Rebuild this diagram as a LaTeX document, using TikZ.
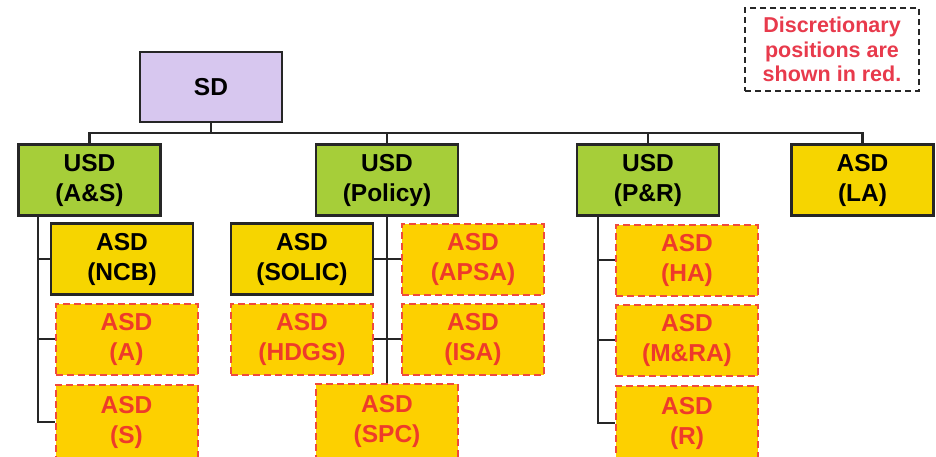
\documentclass[tikz,border=0pt]{standalone}
\usepackage{fontspec}
\setmainfont{Liberation Sans}
\usepackage{tikz}
\usetikzlibrary{positioning}
\definecolor{lilac}{HTML}{D7C7EF}
\definecolor{lime}{HTML}{A6CE39}
\definecolor{gold}{HTML}{F6D500}
\definecolor{amber}{HTML}{FDD000}
\definecolor{alert}{HTML}{EE3B2A}
\definecolor{dashred}{HTML}{F04A3C}
\definecolor{notered}{HTML}{E83A4C}
\definecolor{ink}{HTML}{262626}
\tikzstyle{orgbox}=[rectangle,draw=ink,line width=2.4pt,
  minimum width=142pt,minimum height=71pt,inner sep=0pt,
  align=center,font=\fontsize{24.5}{30}\selectfont\bfseries]
\tikzstyle{sdnode}=[orgbox,fill=lilac]
\tikzstyle{usdnode}=[orgbox,fill=lime]
\tikzstyle{asdnode}=[orgbox,fill=gold]
\tikzstyle{discnode}=[orgbox,fill=amber,draw=dashred,line width=2pt,
  dash pattern=on 7pt off 4pt,text=alert]
\tikzstyle{link}=[line width=2.4pt,color=ink]
\begin{document}
\begin{tikzpicture}[x=1pt,y=-1pt]
  \useasboundingbox[fill=white] (0,0) rectangle (936,456);
  \node[sdnode,minimum height=70pt] (sd) at (211,87) {SD};
  \node[usdnode] (usdas) at (89.5,180) {USD\\(A\&S)};
  \node[usdnode] (usdpol) at (387,180) {USD\\(Policy)};
  \node[usdnode] (usdpr) at (648,180) {USD\\(P\&R)};
  \node[asdnode] (la) at (862.5,180) {ASD\\(LA)};
  \node[asdnode] (ncb) at (122,259) {ASD\\(NCB)};
  \node[discnode] (a) at (126.5,339) {ASD\\(A)};
  \node[discnode,minimum height=74pt] (s) at (126.5,422) {ASD\\(S)};
  \node[asdnode] (solic) at (302,259) {ASD\\(SOLIC)};
  \node[discnode] (hdgs) at (302,339) {ASD\\(HDGS)};
  \node[discnode] (apsa) at (473,259) {ASD\\(APSA)};
  \node[discnode] (isa) at (473,339) {ASD\\(ISA)};
  \node[discnode,minimum height=74pt] (spc) at (387,421) {ASD\\(SPC)};
  \node[discnode] (ha) at (687,260) {ASD\\(HA)};
  \node[discnode] (mra) at (687,340) {ASD\\(M\&RA)};
  \node[discnode,minimum height=74pt] (r) at (687,423) {ASD\\(R)};
  \node[rectangle,draw=ink,line width=1.8pt,dash pattern=on 6pt off 4pt,
    minimum width=174pt,minimum height=83pt,inner sep=0pt,align=center,
    text=notered,font=\fontsize{21.5}{24.5}\selectfont\bfseries]
    (note) at (832,49.5) {Discretionary\\positions are\\shown in red.};
  \coordinate (bus) at (211,133);
  \coordinate (astrunk) at (38,214);
  \coordinate (prtrunk) at (598,215);
  \draw[link] (sd) -- (bus);
  \draw[link] (usdas.north) |- (bus) -| (la.north);
  \draw[link] (usdpol.north) -- (usdpol.north |- bus);
  \draw[link] (usdpr.north) -- (usdpr.north |- bus);
  \draw[link] (astrunk) |- (s.west);
  \draw[link] (astrunk |- ncb.west) -- (ncb.west);
  \draw[link] (astrunk |- a.west) -- (a.west);
  \draw[link] (usdpol) -- (spc);
  \draw[link] (solic) -- (apsa);
  \draw[link] (hdgs) -- (isa);
  \draw[link] (prtrunk) |- (r.west);
  \draw[link] (prtrunk |- ha.west) -- (ha.west);
  \draw[link] (prtrunk |- mra.west) -- (mra.west);
\end{tikzpicture}
\end{document}
